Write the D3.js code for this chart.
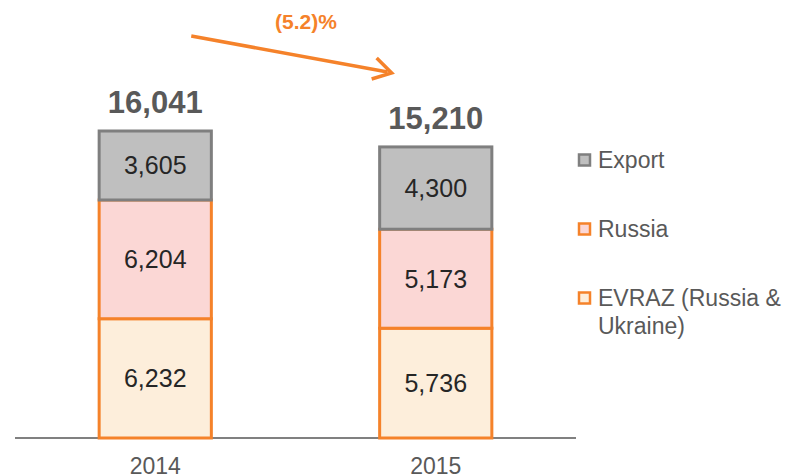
<!DOCTYPE html>
<meta charset="utf-8">
<head>
    <title>Stacked bars</title>
    <script src="https://cdn.jsdelivr.net/npm/d3@7"></script>
</head>

<style>
    body { margin: 0; background: #fff; }
    text { font-family: Arial, "Liberation Sans", sans-serif; }
</style>

<svg></svg>

<script>
    var vWidth = 791;
    var vHeight = 476;

    var years = ['2014', '2015'];
    var seriesNames = ['EVRAZ (Russia & Ukraine)', 'Russia', 'Export'];
    var evraz = [6232, 5736];
    var russia = [6204, 5173];
    var exportVals = [3605, 4300];
    var totals = [16041, 15210];
    var changeLabel = '(5.2)%';

    var fills = ['#fdeedb', '#fbd7d5', '#bfbfbf'];
    var strokes = ['#f5822a', '#f5822a', '#7f7f7f'];

    // table for the stack
    var rows = years.map(function (y, i) {
        return { year: y, s0: evraz[i], s1: russia[i], s2: exportVals[i] };
    });
    var stack = d3.stack().keys(['s0', 's1', 's2']);
    var layers = stack(rows);

    var svg = d3.select('svg').attr('width', vWidth).attr('height', vHeight);

    var x = d3.scaleBand().domain(years).range([15, 576]).paddingInner(0.6).paddingOuter(0.3);
    var y = d3.scaleLinear().domain([0, 16041]).range([438, 131]);

    // axis line
    svg.append('line')
        .attr('x1', 15).attr('x2', 576)
        .attr('y1', y(0)).attr('y2', y(0))
        .attr('stroke', '#808080').attr('stroke-width', 2);

    var g = svg.append('g');
    layers.forEach(function (layer, li) {
        g.selectAll('.seg' + li).data(layer).enter().append('rect')
            .attr('x', function (d) { return x(d.data.year); })
            .attr('width', x.bandwidth())
            .attr('y', function (d) { return y(d[1]); })
            .attr('height', function (d) { return y(d[0]) - y(d[1]); })
            .attr('fill', fills[li])
            .attr('stroke', strokes[li])
            .attr('stroke-width', 3);
    });

    layers.forEach(function (layer, li) {
        g.selectAll('.lab' + li).data(layer).enter().append('text')
            .attr('x', function (d) { return x(d.data.year) + x.bandwidth() / 2; })
            .attr('y', function (d) { return (y(d[0]) + y(d[1])) / 2; })
            .attr('dy', '0.36em')
            .attr('text-anchor', 'middle')
            .attr('font-size', 25)
            .attr('fill', '#262626')
            .text(function (d) { return d3.format(',')(d[1] - d[0]); });
    });

    // totals
    g.selectAll('.total').data(totals).enter().append('text')
        .attr('x', function (d, i) { return x(years[i]) + x.bandwidth() / 2; })
        .attr('y', function (d) { return y(d) - 18; })
        .attr('text-anchor', 'middle')
        .attr('font-size', 31)
        .attr('font-weight', 'bold')
        .attr('fill', '#595959')
        .text(function (d) { return d3.format(',')(d); });

    // year labels
    g.selectAll('.year').data(years).enter().append('text')
        .attr('x', function (d) { return x(d) + x.bandwidth() / 2; })
        .attr('y', 474)
        .attr('text-anchor', 'middle')
        .attr('font-size', 23)
        .attr('fill', '#595959')
        .text(function (d) { return d; });

    // change arrow
    var ax0 = x(years[0]) + x.bandwidth() / 2 + 36, ay0 = 36;
    var ax1 = x(years[1]) + 12, ay1 = 73;
    svg.append('line')
        .attr('x1', ax0).attr('y1', ay0).attr('x2', ax1 - 4).attr('y2', ay1 - 1)
        .attr('stroke', '#f5822a').attr('stroke-width', 3.5);
    svg.append('path')
        .attr('d', 'M' + (ax1 - 15) + ',' + (ay1 - 15) + 'L' + ax1 + ',' + ay1 + 'L' + (ax1 - 20) + ',' + (ay1 + 6))
        .attr('fill', 'none').attr('stroke', '#f5822a').attr('stroke-width', 3.5);
    svg.append('text')
        .attr('x', 306).attr('y', 29)
        .attr('text-anchor', 'middle')
        .attr('font-size', 21).attr('font-weight', 'bold')
        .attr('fill', '#f5822a')
        .text(changeLabel);

    // legend
    var legY = [160, 229, 298];
    var legOrder = [2, 1, 0];
    var leg = svg.selectAll('.leg').data(legOrder).enter().append('g')
        .attr('transform', function (d, i) { return 'translate(579,' + legY[i] + ')'; });
    leg.append('rect')
        .attr('x', 0).attr('y', -5.5).attr('width', 11).attr('height', 11)
        .attr('fill', function (d) { return fills[d]; })
        .attr('stroke', function (d) { return strokes[d]; })
        .attr('stroke-width', 2.5);
    leg.append('text')
        .attr('x', 19).attr('y', 0).attr('dy', '0.36em')
        .attr('font-size', 23).attr('fill', '#595959')
        .each(function (d) {
            var t = d3.select(this);
            if (d === 0) {
                t.append('tspan').attr('x', 19).text('EVRAZ (Russia &');
                t.append('tspan').attr('x', 19).attr('dy', 28).text('Ukraine)');
            } else {
                t.text(seriesNames[d]);
            }
        });
</script>
